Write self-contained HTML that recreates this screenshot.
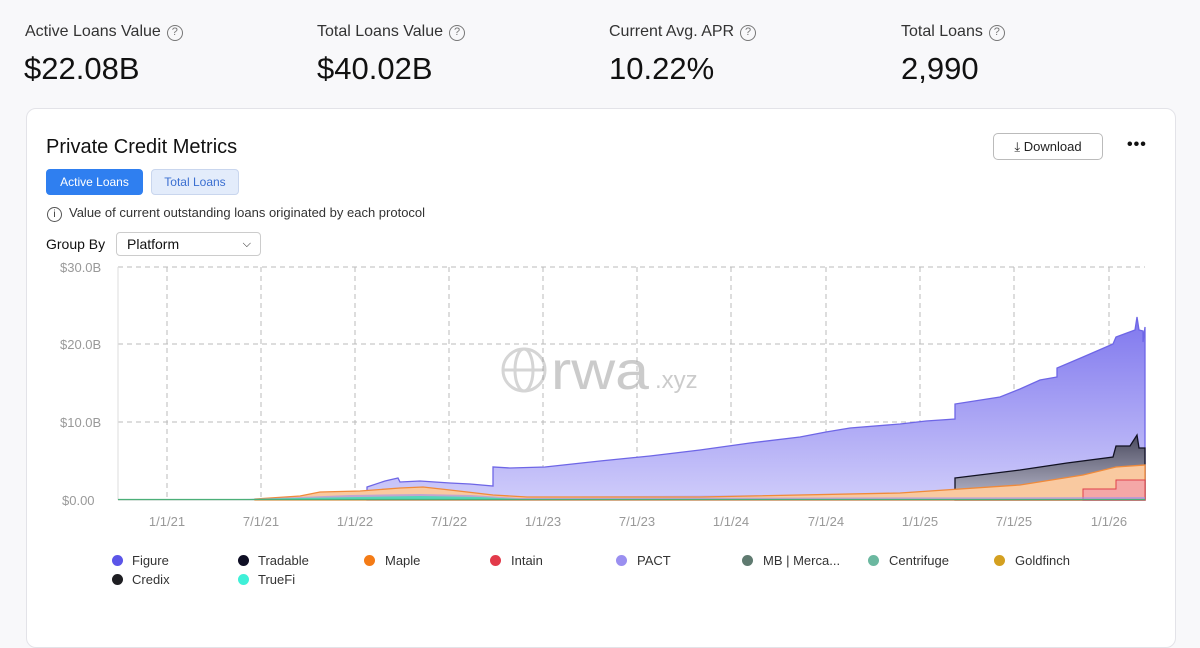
<!DOCTYPE html>
<html><head><meta charset="utf-8"><style>
*{margin:0;padding:0;box-sizing:border-box}
body{width:1200px;height:630px;overflow:hidden;background:#f8f8fa;font-family:"Liberation Sans",sans-serif;color:#111;position:relative}
.a{position:absolute;white-space:nowrap}
.lbl{font-size:16px;color:#333}
.q{display:inline-block;width:16px;height:16px;border:1.5px solid #777;border-radius:50%;font-size:11px;text-align:center;line-height:13px;color:#777;margin-left:6px;vertical-align:1px}
.val{font-size:31px;color:#111}
.card{position:absolute;left:26px;top:108px;width:1150px;height:540px;background:#fff;border:1px solid #e3e3e8;border-radius:10px}
.tick{font-size:13px;fill:#999}
.leg{font-size:13px;color:#333}
.dot{position:absolute;width:11px;height:11px;border-radius:50%}
</style></head><body>
<div class="a lbl" style="left:25px;top:23px">Active Loans Value<span class="q">?</span></div>
<div class="a lbl" style="left:317px;top:23px">Total Loans Value<span class="q">?</span></div>
<div class="a lbl" style="left:609px;top:23px">Current Avg. APR<span class="q">?</span></div>
<div class="a lbl" style="left:901px;top:23px">Total Loans<span class="q">?</span></div>
<div class="a val" style="left:24px;top:51px">$22.08B</div>
<div class="a val" style="left:317px;top:51px">$40.02B</div>
<div class="a val" style="left:609px;top:51px">10.22%</div>
<div class="a val" style="left:901px;top:51px">2,990</div>
<div class="card"></div>
<div class="a" style="left:46px;top:136px;font-size:20px;color:#111">Private Credit Metrics</div>
<div class="a" style="left:993px;top:133px;width:110px;height:27px;border:1px solid #bbb;border-radius:5px;font-size:13px;line-height:25px;text-align:center;color:#222">⤓ Download</div>
<div class="a" style="left:1127px;top:136px;font-size:16px;font-weight:bold;letter-spacing:1px">•••</div>
<div class="a" style="left:46px;top:169px;width:97px;height:26px;background:#2f7ff0;border-radius:4px;color:#fff;font-size:12px;line-height:26px;text-align:center">Active Loans</div>
<div class="a" style="left:151px;top:169px;width:88px;height:26px;background:#e3ecfb;border:1px solid #c9d6ee;border-radius:4px;color:#3b6fd1;font-size:12px;line-height:24px;text-align:center">Total Loans</div>
<div class="a" style="left:47px;top:205px;font-size:13px;color:#333"><span style="display:inline-block;width:15px;height:15px;border:1.3px solid #555;border-radius:50%;font-size:10px;text-align:center;line-height:13px;margin-right:7px">i</span>Value of current outstanding loans originated by each protocol</div>
<div class="a" style="left:46px;top:236px;font-size:14px">Group By</div>
<div class="a" style="left:116px;top:232px;width:145px;height:24px;border:1px solid #ccc;border-radius:4px;font-size:14px;line-height:22px;padding-left:10px">Platform<span style="position:absolute;right:9px;top:0;font-size:11px">⌵</span></div>
<svg class="a" style="left:0;top:0" width="1200" height="630">
<defs>
<linearGradient id="gp" x1="0" y1="0" x2="0" y2="1"><stop offset="0" stop-color="#7f77ee"/><stop offset="1" stop-color="#cfccfa"/></linearGradient>
<linearGradient id="gk" x1="0" y1="0" x2="0" y2="1"><stop offset="0" stop-color="#4a4a5e"/><stop offset="1" stop-color="#b9b9cc"/></linearGradient>
</defs>
<g stroke="#bbb" stroke-dasharray="5,4" stroke-width="1">
<line x1="118" y1="267" x2="1145" y2="267"/><line x1="118" y1="344" x2="1145" y2="344"/><line x1="118" y1="422" x2="1145" y2="422"/>
<line x1="167" y1="267" x2="167" y2="500"/><line x1="261" y1="267" x2="261" y2="500"/><line x1="355" y1="267" x2="355" y2="500"/><line x1="449" y1="267" x2="449" y2="500"/><line x1="543" y1="267" x2="543" y2="500"/><line x1="637" y1="267" x2="637" y2="500"/><line x1="731" y1="267" x2="731" y2="500"/><line x1="826" y1="267" x2="826" y2="500"/><line x1="920" y1="267" x2="920" y2="500"/><line x1="1014" y1="267" x2="1014" y2="500"/><line x1="1109" y1="267" x2="1109" y2="500"/>
</g>
<line x1="118" y1="267" x2="118" y2="500" stroke="#ddd"/>
<line x1="118" y1="500" x2="1145" y2="500" stroke="#ccc"/>
<text x="60" y="272" class="tick">$30.0B</text>
<text x="60" y="349" class="tick">$20.0B</text>
<text x="60" y="427" class="tick">$10.0B</text>
<text x="62" y="505" class="tick">$0.00</text>
<g class="tick" text-anchor="middle">
<text x="167" y="526">1/1/21</text><text x="261" y="526">7/1/21</text><text x="355" y="526">1/1/22</text><text x="449" y="526">7/1/22</text><text x="543" y="526">1/1/23</text><text x="637" y="526">7/1/23</text><text x="731" y="526">1/1/24</text><text x="826" y="526">7/1/24</text><text x="920" y="526">1/1/25</text><text x="1014" y="526">7/1/25</text><text x="1109" y="526">1/1/26</text>
</g>
<g opacity="0.35" fill="none" stroke="#888" stroke-width="3"><circle cx="524" cy="370" r="21"/><ellipse cx="524" cy="370" rx="9" ry="21"/><line x1="503" y1="370" x2="545" y2="370"/></g>
<text x="551" y="389" style="font-size:54px;fill:#aaa;opacity:.6" textLength="98" lengthAdjust="spacingAndGlyphs">rwa</text><text x="655" y="388" style="font-size:24px;fill:#aaa;opacity:.6">.xyz</text>
<path d="M367,487 L385,481 L398,478 L400,482 L420,481 L450,483 L470,484 L493,486 L493,467 L510,468 L545,467 L600,461 L650,456 L700,450 L750,443 L800,437 L826,432 L850,428 L900,424 L926,421 L955,419 L955,404 L1000,397 L1020,389 L1040,380 L1057,377 L1057,368 L1083,357 L1113,344 L1116,337 L1135,330 L1137,317 L1139,330 L1143,331 L1143,342 L1145,327 L1145,500 L367,500Z" fill="url(#gp)" stroke="#6e66e6" stroke-width="1.3"/>
<path d="M118,500 L500,497 L920,494 L1145,492 L1145,500 L118,500Z" fill="#b8b2f5"/>
<path d="M955,478 L1020,470 L1067,463 L1113,457 L1116,446 L1130,446 L1137,435 L1139,448 L1145,448 L1145,500 L955,500Z" fill="url(#gk)" stroke="#111122" stroke-width="1.3"/>
<path d="M255,499 L300,496 L320,492 L360,491 L400,488 L423,487 L450,490 L493,495 L527,497 L700,497 L900,493 L1020,485 L1083,475 L1116,467 L1145,465 L1145,500 L255,500Z" fill="#f9c9a0" stroke="#f08a3a" stroke-width="1.3"/>
<path d="M1083,489 L1116,489 L1116,480 L1145,480 L1145,500 L1083,500Z" fill="#f4a7a7" stroke="#e0404a" stroke-width="1"/>
<path d="M118,500 L250,499 L300,497 L350,495 L420,494 L470,495 L520,498 L1145,497 L1145,500Z" fill="#9a8ff0" opacity=".6"/>
<path d="M118,500 L250,499 L300,498 L420,496 L480,497 L520,499 L1145,499 L1145,500Z" fill="#55d6b8"/>
<line x1="118" y1="499.5" x2="1145" y2="499.5" stroke="#4caf78" stroke-width="1.3"/>
</svg>
<div class="dot" style="left:112px;top:555px;background:#5b55e8"></div><div class="a leg" style="left:132px;top:553px">Figure</div>
<div class="dot" style="left:238px;top:555px;background:#0e0e24"></div><div class="a leg" style="left:258px;top:553px">Tradable</div>
<div class="dot" style="left:364px;top:555px;background:#f47b16"></div><div class="a leg" style="left:385px;top:553px">Maple</div>
<div class="dot" style="left:490px;top:555px;background:#e23a4a"></div><div class="a leg" style="left:511px;top:553px">Intain</div>
<div class="dot" style="left:616px;top:555px;background:#9a8ff0"></div><div class="a leg" style="left:637px;top:553px">PACT</div>
<div class="dot" style="left:742px;top:555px;background:#5f7a70"></div><div class="a leg" style="left:763px;top:553px">MB | Merca...</div>
<div class="dot" style="left:868px;top:555px;background:#6bb8a0"></div><div class="a leg" style="left:889px;top:553px">Centrifuge</div>
<div class="dot" style="left:994px;top:555px;background:#d4a020"></div><div class="a leg" style="left:1015px;top:553px">Goldfinch</div>
<div class="dot" style="left:112px;top:574px;background:#1e1e22"></div><div class="a leg" style="left:132px;top:572px">Credix</div>
<div class="dot" style="left:238px;top:574px;background:#3ff0d8"></div><div class="a leg" style="left:258px;top:572px">TrueFi</div>
</body></html>
